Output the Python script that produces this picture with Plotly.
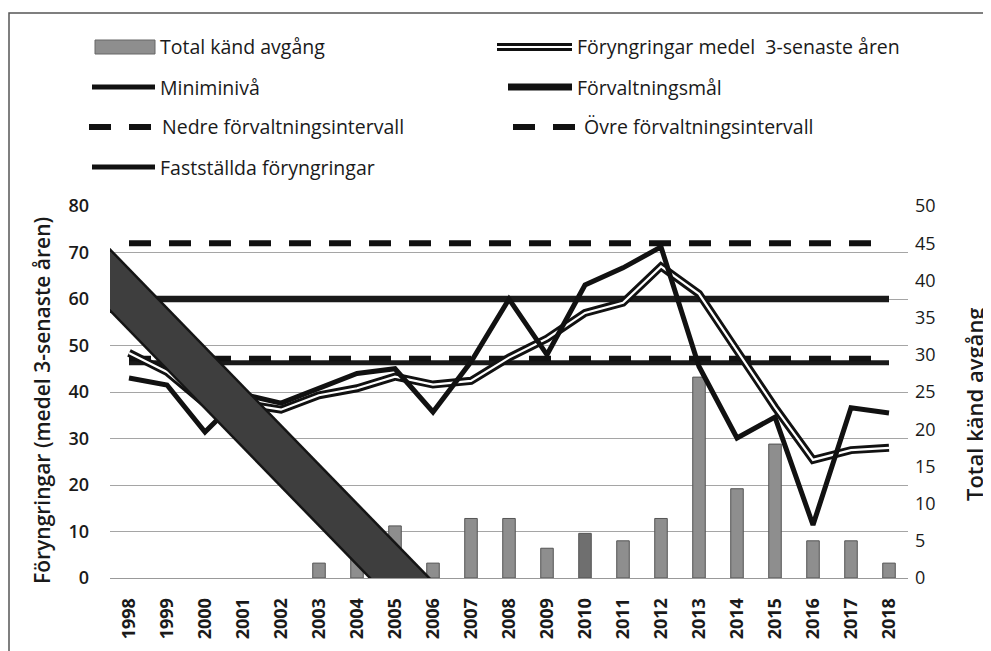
import plotly.graph_objects as go

# ---------------- data ----------------
years = [1998, 1999, 2000, 2001, 2002, 2003, 2004, 2005, 2006, 2007, 2008,
         2009, 2010, 2011, 2012, 2013, 2014, 2015, 2016, 2017, 2018]
tick_labels = ["1998", "1999", "2000", "2001", "2002", "2003", "2004", "2005",
               "2006", "2007", "2008", "2009", "2010", "2011", "2012", "2013",
               "2014", "2015", "2016", "2017", "2018"]

# Total känd avgång (right axis)
avgang = [None, None, None, None, None, 2, 3, 7, 2, 8, 8,
          4, 6, 5, 8, 27, 12, 18, 5, 5, 2]

# Fastställda föryngringar (left axis)
faststallda = [43.0, 41.5, 31.4, 39.5, 37.6, 40.9, 44.0, 45.0, 35.7, 46.5, 60.0,
               48.0, 63.0, 66.7, 71.2, 45.5, 30.1, 34.6, 11.4, 36.6, 35.5]

# Föryngringar medel 3-senaste åren (left axis)
medel = [48.4, 44.3, 37.5, 37.5, 36.2, 39.3, 40.8, 43.3, 41.6, 42.4, 47.4,
         51.5, 57.0, 59.2, 67.0, 61.1, 48.9, 36.7, 25.4, 27.5, 28.0]

ovre = [72, 72, 72, 72, 72, 72, 72, 72, 72, 72, 72,
        72, 72, 72, 72, 72, 72, 72, 72, 72, 72]
forvaltningsmal = [60, 60, 60, 60, 60, 60, 60, 60, 60, 60, 60,
                   60, 60, 60, 60, 60, 60, 60, 60, 60, 60]
nedre = [47.2, 47.2, 47.2, 47.2, 47.2, 47.2, 47.2, 47.2, 47.2, 47.2, 47.2,
         47.2, 47.2, 47.2, 47.2, 47.2, 47.2, 47.2, 47.2, 47.2, 47.2]
miniminiva = [46.3, 46.3, 46.3, 46.3, 46.3, 46.3, 46.3, 46.3, 46.3, 46.3, 46.3,
              46.3, 46.3, 46.3, 46.3, 46.3, 46.3, 46.3, 46.3, 46.3, 46.3]

# diagonal dark band (scan overlay), left-axis units
band_x = [1996.5, 2006.5]
band_y = [72.5, -11.6]

left_ticks = [0, 10, 20, 30, 40, 50, 60, 70, 80]
right_ticks = [0, 5, 10, 15, 20, 25, 30, 35, 40, 45, 50]

# ---------------- geometry ----------------
PAGE_OFF = 8                      # default body margin of the html page
W, H = 991, 651
L, R, T, B = 110 - PAGE_OFF, 908 - PAGE_OFF, 206 - PAGE_OFF, 578 - PAGE_OFF


def px_x(p):
    """page pixel x -> paper coordinate"""
    return (p - PAGE_OFF - L) / (R - L)


def px_y(p):
    """page pixel y -> paper coordinate"""
    return (B - (p - PAGE_OFF)) / (B - T)


FONT = "Open Sans"
INK = "#111111"
TXT = "#1a1a1a"

bar_colors = ["#6f6f6f" if y == 2010 else "#8e8e8e" for y in years]

fig = go.Figure()

fig.add_trace(go.Bar(x=years, y=avgang, yaxis="y", xaxis="x", width=0.33,
                     marker=dict(color=bar_colors, line=dict(color="#555555", width=1)),
                     name="Total känd avgång"))

fig.add_trace(go.Scatter(x=years, y=ovre, yaxis="y2", mode="lines",
                         line=dict(color=INK, width=6, dash="22px,18px"),
                         name="Övre förvaltningsintervall"))
fig.add_trace(go.Scatter(x=years, y=forvaltningsmal, yaxis="y2", mode="lines",
                         line=dict(color="#1a1a1a", width=6.5),
                         name="Förvaltningsmål"))
fig.add_trace(go.Scatter(x=years, y=miniminiva, yaxis="y2", mode="lines",
                         line=dict(color="#1a1a1a", width=5),
                         name="Miniminivå"))
fig.add_trace(go.Scatter(x=years, y=nedre, yaxis="y2", mode="lines",
                         line=dict(color=INK, width=5.5, dash="22px,18px"),
                         name="Nedre förvaltningsintervall"))
fig.add_trace(go.Scatter(x=years, y=medel, yaxis="y2", mode="lines",
                         line=dict(color=INK, width=8),
                         name="Föryngringar medel 3-senaste åren"))
fig.add_trace(go.Scatter(x=years, y=medel, yaxis="y2", mode="lines",
                         line=dict(color="white", width=2.2),
                         showlegend=False, hoverinfo="skip"))
fig.add_trace(go.Scatter(x=years, y=faststallda, yaxis="y2", mode="lines",
                         line=dict(color=INK, width=5),
                         name="Fastställda föryngringar"))
fig.add_trace(go.Scatter(x=band_x, y=band_y, yaxis="y2", mode="lines",
                         line=dict(color="#151515", width=45),
                         showlegend=False, hoverinfo="skip"))
fig.add_trace(go.Scatter(x=band_x, y=band_y, yaxis="y2", mode="lines",
                         line=dict(color="#3e3e3e", width=40),
                         showlegend=False, hoverinfo="skip"))

# ---------------- legend (manual, two columns) ----------------
shapes = []
annotations = []

legend_items = [
    # (kind, x0, x1, y, text_x, text)  -- page pixels
    ("bar", 95, 155, 47, 158, "Total känd avgång"),
    ("triple", 497, 572, 47, 575, "Föryngringar medel\u00a0 3-senaste åren"),
    ("solid5", 92, 155, 87, 158, "Miniminivå"),
    ("solid7", 508, 572, 87, 575, "Förvaltningsmål"),
    ("dash", 89, 151, 127, 160, "Nedre förvaltningsintervall"),
    ("dash", 513, 577, 127, 582, "Övre förvaltningsintervall"),
    ("solid5", 92, 155, 167, 158, "Fastställda föryngringar"),
]
for kind, x0, x1, yy, tx, text in legend_items:
    if kind == "bar":
        shapes.append(dict(type="rect", xref="paper", yref="paper",
                           x0=px_x(x0), x1=px_x(x1), y0=px_y(yy + 7), y1=px_y(yy - 7),
                           fillcolor="#8e8e8e", line=dict(color="#666666", width=1)))
    elif kind == "triple":
        shapes.append(dict(type="line", xref="paper", yref="paper",
                           x0=px_x(x0), x1=px_x(x1), y0=px_y(yy), y1=px_y(yy),
                           line=dict(color=INK, width=8)))
        shapes.append(dict(type="line", xref="paper", yref="paper",
                           x0=px_x(x0), x1=px_x(x1), y0=px_y(yy), y1=px_y(yy),
                           line=dict(color="white", width=2.2)))
    elif kind == "dash":
        shapes.append(dict(type="line", xref="paper", yref="paper",
                           x0=px_x(x0), x1=px_x(x1), y0=px_y(yy), y1=px_y(yy),
                           line=dict(color=INK, width=6, dash="22px,18px")))
    else:
        wdt = 5 if kind == "solid5" else 7
        shapes.append(dict(type="line", xref="paper", yref="paper",
                           x0=px_x(x0), x1=px_x(x1), y0=px_y(yy), y1=px_y(yy),
                           line=dict(color=INK, width=wdt)))
    annotations.append(dict(xref="paper", yref="paper", x=px_x(tx), y=px_y(yy),
                            xanchor="left", yanchor="middle", showarrow=False,
                            text=text, font=dict(family=FONT, size=19.5, color=TXT)))

# axis titles
annotations.append(dict(xref="paper", yref="paper", x=px_x(42), y=px_y(401),
                        xanchor="center", yanchor="middle", showarrow=False, textangle=-90,
                        text="Föryngringar (medel 3-senaste åren)",
                        font=dict(family=FONT, size=21, color=TXT, weight=600)))
annotations.append(dict(xref="paper", yref="paper", x=px_x(974), y=px_y(404),
                        xanchor="center", yanchor="middle", showarrow=False, textangle=-90,
                        text="Total känd avgång",
                        font=dict(family=FONT, size=22, color=TXT, weight=600)))

# scan frame
shapes.append(dict(type="rect", xref="paper", yref="paper",
                   x0=px_x(9), x1=px_x(1010), y0=px_y(680), y1=px_y(13),
                   line=dict(color="#555555", width=1.5), fillcolor="rgba(0,0,0,0)",
                   layer="below"))

fig.update_layout(
    width=W, height=H,
    margin=dict(l=L, r=W - R, t=T, b=H - B, autoexpand=False),
    paper_bgcolor="white", plot_bgcolor="white",
    showlegend=False,
    shapes=shapes, annotations=annotations,
    xaxis=dict(range=[1997.5, 2018.5], tickmode="array", tickvals=years,
               ticktext=tick_labels, tickangle=-90, showgrid=False,
               showline=True, linecolor="#999999", linewidth=1, ticks="",
               zeroline=False, ticklabelstandoff=12,
               tickfont=dict(family=FONT, size=18, color=TXT, weight=700)),
    yaxis=dict(range=[0, 50], side="right", tickmode="array", tickvals=right_ticks,
               showgrid=False, zeroline=False, showline=False, ticks="",
               ticklabelstandoff=6,
               minor=dict(tick0=0, dtick=6.25, showgrid=True, gridcolor="#a5a5a5",
                          gridwidth=1, ticks=""),
               tickfont=dict(family=FONT, size=18, color=TXT)),
    yaxis2=dict(range=[0, 80], side="left", overlaying="y", tickmode="array",
                tickvals=left_ticks, showgrid=False, zeroline=False, showline=False,
                ticks="", ticklabelstandoff=20,
                tickfont=dict(family=FONT, size=18, color=TXT, weight=600)),
)

fig.write_html("out.html")
